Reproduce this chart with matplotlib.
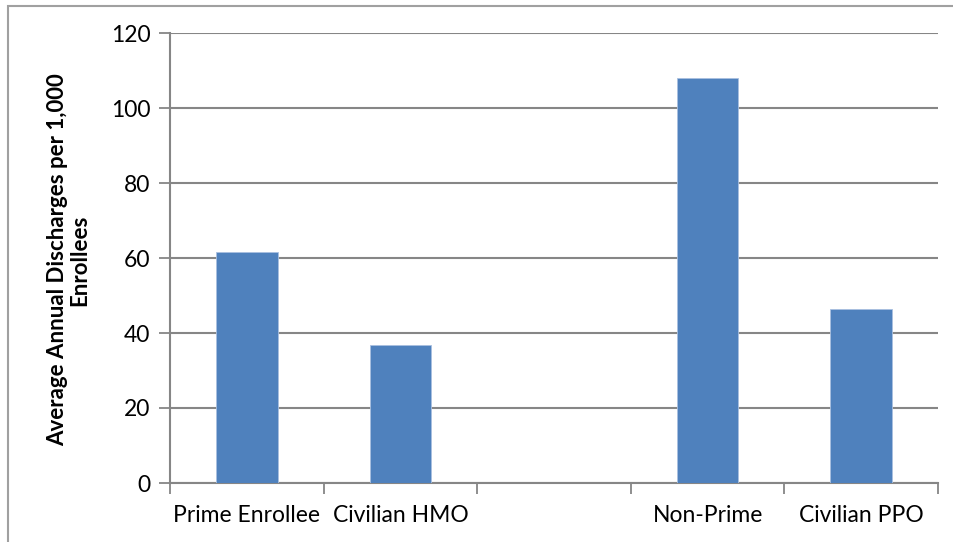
import numpy as np
import matplotlib.pyplot as plt
from matplotlib.patches import Rectangle

categories = ['Prime Enrollee', 'Civilian HMO', '', 'Non-Prime', 'Civilian PPO']
discharges = [61.6, 36.7, np.nan, 108.0, 46.4]
yticks = [0, 20, 40, 60, 80, 100, 120]
ylabel = 'Average Annual Discharges per 1,000\nEnrollees'

plt.rcParams['font.family'] = ['Lato', 'DejaVu Sans']
grid_col = '#868686'

fig = plt.figure(figsize=(9.54, 5.42), dpi=100)
ax = fig.add_axes([170/954, 1-483/542, (938-170)/954, (483-33)/542])

x = np.arange(len(categories))
ax.bar(x, discharges, width=0.4, color='#4F81BD', edgecolor='#A9C0E0', linewidth=0.6, zorder=3)

ax.set_xlim(-0.5, len(categories)-0.5)
ax.set_ylim(0, 120)
ax.set_yticks(yticks)
ax.set_yticklabels([str(v) for v in yticks], fontsize=16.5)
ax.set_xticks(x)
ax.set_xticklabels(categories, fontsize=16.5)
ax.set_xticks(np.arange(len(categories)+1) - 0.5, minor=True)
ax.tick_params(axis='x', which='major', length=0, pad=16)
ax.tick_params(axis='x', which='minor', length=8, width=1.3, color=grid_col)
ax.tick_params(axis='y', length=8, width=1.3, color=grid_col, pad=6)

ax.yaxis.grid(True, color=grid_col, linewidth=1.5, zorder=0)
ax.set_axisbelow(True)
for s in ['top', 'right']:
    ax.spines[s].set_visible(False)
for s in ['left', 'bottom']:
    ax.spines[s].set_color(grid_col)
    ax.spines[s].set_linewidth(1.5)

fig.text(69/954, 1-260/542, ylabel, rotation=90, ha='center', va='center',
         fontsize=16, fontweight='bold', multialignment='center', linespacing=1.05)

# chart area frame
fig.patches.append(Rectangle((8/954, -0.1), 1.2, 1-6/542+0.1, transform=fig.transFigure,
                             fill=False, edgecolor='#A0A0A0', linewidth=1.5))

fig.savefig('out.png', dpi=100)
